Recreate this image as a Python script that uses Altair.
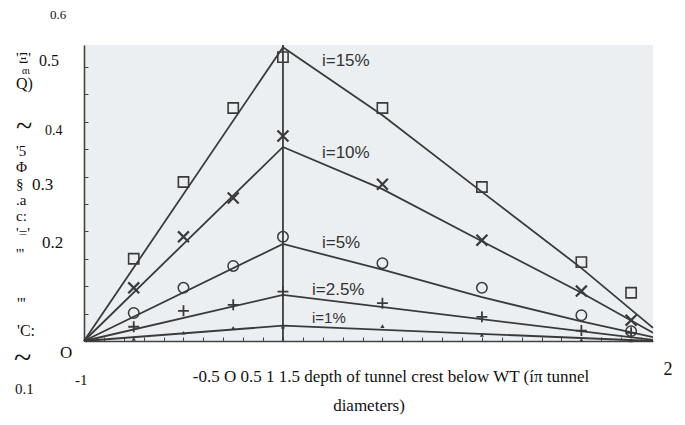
import altair as alt
import pandas as pd

# ---------------- data ----------------
x_pos = [-0.75, -0.5, -0.25, 0.0, 0.5, 1.0, 1.5, 1.75]
pts_15 = [0.150, 0.290, 0.425, 0.518, 0.425, 0.281, 0.144, 0.088]   # squares
pts_10 = [0.097, 0.190, 0.261, 0.374, 0.286, 0.184, 0.091, 0.038]   # crosses
pts_5 = [0.051, 0.097, 0.137, 0.190, 0.142, 0.097, 0.047, 0.018]    # circles
pts_2_5 = [0.026, 0.055, 0.066, 0.090, 0.069, 0.044, 0.019, 0.015]  # plus
pts_1 = [0.004, 0.015, 0.024, 0.026, 0.027, 0.011, 0.002, 0.001]    # triangles

line_x_long = [-1.0, 0.0, 0.5, 1.0, 1.5, 1.86]
line_15 = [0.0, 0.536, 0.412, 0.272, 0.133, 0.024]
line_10 = [0.0, 0.354, 0.277, 0.182, 0.088, 0.015]
line_5 = [0.0, 0.177, 0.130, 0.080, 0.036, 0.007]
line_x_short = [-1.0, 0.0, 1.86]
line_2_5 = [0.0, 0.084, 0.002]
line_1 = [0.0, 0.028, 0.0]

series_labels = ["i=15%", "i=10%", "i=5%", "i=2.5%", "i=1%"]
label_x = [0.196, 0.196, 0.196, 0.146, 0.146]
label_y = [0.511, 0.343, 0.179, 0.093, 0.042]

x_ticks = [-0.9, -0.8, -0.7, -0.6, -0.5, -0.4, -0.3, -0.2, -0.1, 0.0,
           0.1, 0.2, 0.3, 0.4, 0.5, 0.6, 0.7, 0.8, 0.9, 1.0,
           1.1, 1.2, 1.3, 1.4, 1.5, 1.6, 1.7, 1.8]
y_ticks = [0.05, 0.1, 0.15, 0.2, 0.25, 0.3, 0.35, 0.4, 0.45, 0.5]

# scanned (OCR) text fragments around the figure
ocr_texts = ["0.6", "'Ξ'", "0.5", "αι", "Q)", "~", "0.4", "'5", "Φ", "§", "0.3",
             ".a", "c:", "'='", "0.2", "'''", "'''", "'C:", "~", "O", "0.1", "-1",
             "-0.5 O 0.5 1 1.5 depth of tunnel crest below WT (íπ tunnel",
             "diameters)", "2"]

# ---------------- layout (pixel placement of the OCR fragments) ----------------
W, H = 569, 296
OX, OY = 84, 45  # page position of the plot origin
ocr_layout = [  # page x, page y (centre), font size, align
    (50, 15, 13, "left"), (16, 58, 15, "left"), (39, 61, 16, "left"),
    (22, 71, 10, "left"), (16, 84, 16, "left"), (16, 127, 30, "left"),
    (45, 131, 14, "left"), (16, 151, 15, "left"), (16, 167, 15, "left"),
    (16, 184, 15, "left"), (32, 185, 17, "left"), (16, 200, 15, "left"),
    (16, 216, 15, "left"), (16, 233, 15, "left"), (42, 243, 17, "left"),
    (16, 254, 15, "left"), (17, 304, 16, "left"), (17, 331, 16, "left"),
    (14, 358, 32, "left"), (60, 353, 17, "left"), (15, 389, 15, "left"),
    (75, 380, 15, "left"), (391, 377, 17, "center"), (369, 406, 17, "center"),
    (668, 370, 18, "center"),
]

INK = "#3a3a3a"
xs = alt.Scale(domain=[-1, 1.86], nice=False, zero=False)
ys = alt.Scale(domain=[0, 0.54], nice=False, zero=False)
x_axis = alt.Axis(orient="top", offset=-H, values=x_ticks, labels=False, title=None,
                  tickSize=4, domainColor="#444", tickColor="#444", domainWidth=1.6,
                  tickWidth=1, grid=False)
y_axis = alt.Axis(orient="right", offset=-W, values=y_ticks, labels=False, title=None,
                  tickSize=4, domainColor="#444", tickColor="#444", domainWidth=1.6,
                  tickWidth=1, grid=False)


def X(field="x"):
    return alt.X(f"{field}:Q", scale=xs, axis=x_axis)


def Y(field="y"):
    return alt.Y(f"{field}:Q", scale=ys, axis=y_axis)


# lines
rows = []
for name, xv, yv in [("15", line_x_long, line_15), ("10", line_x_long, line_10),
                     ("5", line_x_long, line_5), ("2.5", line_x_short, line_2_5),
                     ("1", line_x_short, line_1)]:
    for a, b in zip(xv, yv):
        rows.append({"series": name, "x": a, "y": b})
lines_df = pd.DataFrame(rows)

lines = alt.Chart(lines_df).mark_line(color=INK, strokeWidth=1.8).encode(
    x=X(), y=Y(), detail="series:N", order="x:Q"
)

vline = alt.Chart(pd.DataFrame({"x": [0.0], "y": [0.0], "y2": [0.54]})).mark_rule(
    color=INK, strokeWidth=1.8
).encode(x=X(), y=Y(), y2="y2:Q")


def pts(vals, **mk):
    df = pd.DataFrame({"x": x_pos, "y": vals})
    return alt.Chart(df).mark_point(**mk).encode(x=X(), y=Y())


p15 = pts(pts_15, shape="square", size=105, filled=False, color=INK, strokeWidth=1.6, opacity=1)
p10 = pts(pts_10, shape="M-1,-1L1,1M-1,1L1,-1", size=120, filled=False, color=INK,
          strokeWidth=2.2, opacity=1)
p5 = pts(pts_5, shape="circle", size=110, filled=False, color=INK, strokeWidth=1.5, opacity=1)
p25 = pts(pts_2_5, shape="M-1,0L1,0M0,-1L0,1", size=120, filled=False, color=INK,
          strokeWidth=1.8, opacity=1)
p1 = pts(pts_1, shape="triangle-up", size=18, filled=True, color=INK, opacity=1)

lab_df = pd.DataFrame({"t": series_labels, "x": label_x, "y": label_y})
labels_big = alt.Chart(lab_df.iloc[:4]).mark_text(
    align="left", baseline="middle", font="Liberation Sans", fontSize=17, color="#333"
).encode(x=X(), y=Y(), text="t:N")
labels_small = alt.Chart(lab_df.iloc[4:]).mark_text(
    align="left", baseline="middle", font="Liberation Sans", fontSize=15, color="#333"
).encode(x=X(), y=Y(), text="t:N")

ocr_layers = []
for txt, (px, py, fs, al) in zip(ocr_texts, ocr_layout):
    ocr_layers.append(
        alt.Chart(pd.DataFrame({"t": [txt]})).mark_text(
            align=al, baseline="middle", font="Liberation Serif", fontSize=fs, color="#111"
        ).encode(x=alt.value(px - OX), y=alt.value(py - OY), text="t:N")
    )

chart = alt.layer(lines, vline, p15, p10, p5, p25, p1, labels_big, labels_small,
                  *ocr_layers).properties(
    width=W, height=H,
    autosize=alt.AutoSizeParams(type="none"),
    padding={"left": OX - 8, "top": OY - 8, "right": 24, "bottom": 409 - (OY - 8) - H},
    background="white",
).configure_view(fill="#eceff2", stroke=None)

chart.save("out.html", embed_options={"renderer": "svg", "actions": False})
